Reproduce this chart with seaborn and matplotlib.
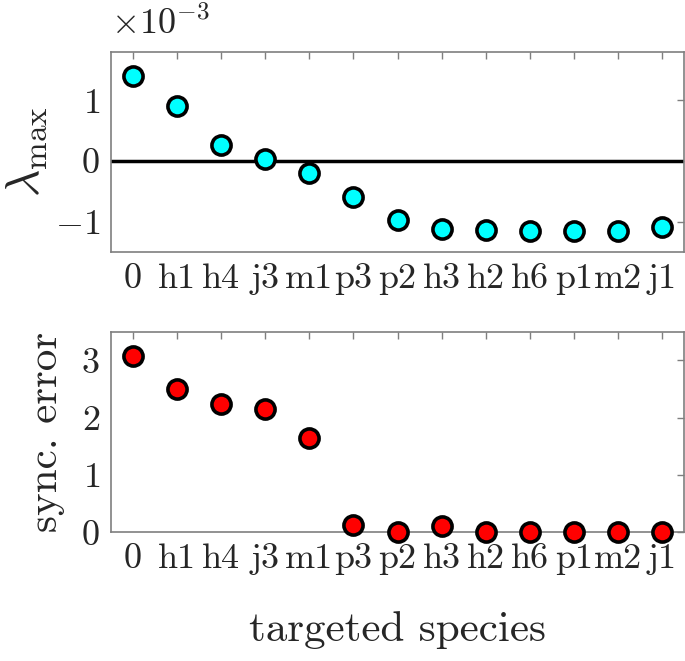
import numpy as np
import pandas as pd
import matplotlib
matplotlib.use('Agg')
import matplotlib.pyplot as plt
from matplotlib.ticker import ScalarFormatter
import seaborn as sns

# targeted species on the x axis
species = ['0', 'h1', 'h4', 'j3', 'm1', 'p3', 'p2', 'h3', 'h2', 'h6', 'p1', 'm2', 'j1']
# largest Lyapunov exponent (x 1e-3)
lambda_max = [1.41, 0.91, 0.26, 0.03, -0.20, -0.59, -0.975, -1.12, -1.14, -1.16, -1.16, -1.15, -1.09]
# synchronisation error
sync_error = [3.08, 2.50, 2.23, 2.16, 1.64, 0.12, 0.0, 0.11, 0.0, 0.0, 0.0, 0.0, 0.0]

df = pd.DataFrame({'species': species,
                   'lam': np.array(lambda_max) * 1e-3,
                   'err': sync_error})

sns.set_style('white')
plt.rcParams['font.family'] = 'serif'
plt.rcParams['font.serif'] = ['cmr10']
plt.rcParams['mathtext.fontset'] = 'cm'
plt.rcParams['axes.formatter.use_mathtext'] = True
plt.rcParams['axes.unicode_minus'] = True

FS = 26
SPINE = '#7f7f7f'

fig = plt.figure(figsize=(6.85, 6.61), dpi=100)
ax1 = fig.add_axes([111/685, 1 - 252/661, 573/685, 200/661])
ax2 = fig.add_axes([111/685, 1 - 532.3/661, 573/685, 200.6/661])


def style_axes(ax):
    for sp in ax.spines.values():
        sp.set_color(SPINE)
        sp.set_linewidth(1.2)
    ax.tick_params(direction='in', length=5, width=1, color=SPINE,
                   top=True, right=True, labelsize=FS, pad=8)
    ax.set_xlim(-0.5, 12.5)


ax1.axhline(0, color='k', linewidth=2.5, zorder=1)
sns.scatterplot(data=df, x='species', y='lam', ax=ax1, s=190, color='cyan',
                edgecolor='k', linewidth=2.6, zorder=3, legend=False)
ax1.set_ylim(-1.5e-3, 1.8e-3)
ax1.set_yticks([-1e-3, 0, 1e-3])
fmt = ScalarFormatter(useMathText=True)
fmt.set_powerlimits((0, 0))
ax1.yaxis.set_major_formatter(fmt)
ax1.yaxis.OFFSETTEXTPAD = 13
ax1.set_xlabel('')
ax1.set_ylabel(r'$\lambda_{\max}$', fontsize=34, labelpad=4)
style_axes(ax1)
ax1.yaxis.get_offset_text().set_fontsize(FS)

sns.scatterplot(data=df, x='species', y='err', ax=ax2, s=190, color='red',
                edgecolor='k', linewidth=2.6, zorder=3, legend=False, clip_on=False)
ax2.set_ylim(0, 3.5)
ax2.set_yticks([0, 1, 2, 3])
ax2.set_xlabel('targeted species', fontsize=31, labelpad=26)
ax2.set_ylabel('sync. error', fontsize=31, labelpad=12)
style_axes(ax2)

fig.savefig('out.png', dpi=100)
